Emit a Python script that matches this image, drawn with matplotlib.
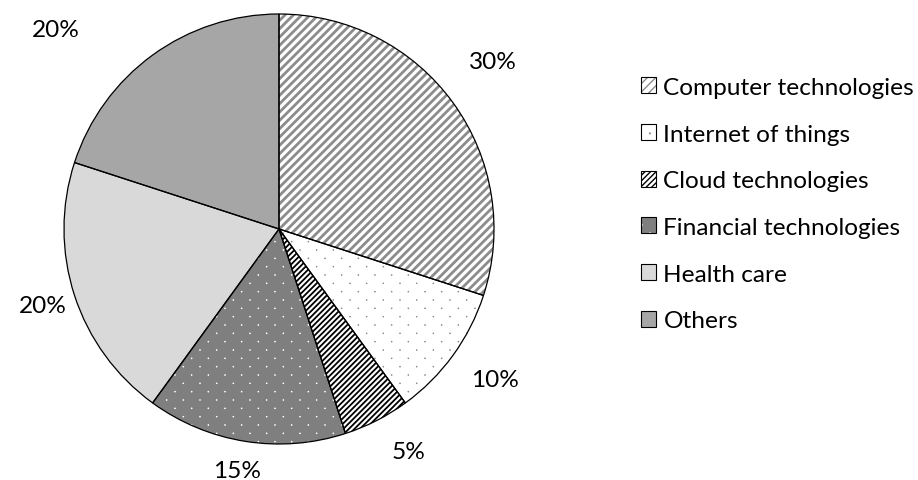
import matplotlib.pyplot as plt
from matplotlib.patches import Patch
from matplotlib.path import Path
from matplotlib import hatch as mhatch
import numpy as np

categories = ["Computer technologies", "Internet of things", "Cloud technologies",
              "Financial technologies", "Health care", "Others"]
shares = [30, 10, 5, 15, 20, 20]

# fill / hatch styles per slice (Excel-like grayscale patterns)
face = ["white", "white", "white", "#7f7f7f", "#d9d9d9", "#a6a6a6"]
hatch = ["////", ".", "//////", ".", None, None]
hatch_col = ["#8c8c8c", "#8c8c8c", "black", "white", "#d9d9d9", "#a6a6a6"]
hatch_lw = [2.0, 0.6, 1.3, 0.6, 1.0, 1.0]

# label placement (radius factor, angle shift in degrees) - mimics Excel best fit
lab_r = [1.27, 1.22, 1.19, 1.13, 1.15, 1.40]
lab_shift = [2.5, 1.5, 3.5, -1.0, -0.5, 12.0]


# Excel style dot pattern: rows twice as dense as columns, staggered
class SparseDots(mhatch.HatchPatternBase):
    def __init__(self, hatch, density):
        n = hatch.count('.') * density
        circ = Path.unit_circle()
        self.cv = circ.vertices
        self.cc = circ.codes
        pts = []
        if n:
            rows = 2 * n
            for i in range(rows + 1):
                if i % 2 == 0:
                    xs = np.arange(n + 1) / n
                else:
                    xs = (np.arange(n) + 0.5) / n
                pts += [(x, i / rows) for x in xs]
        self.pts = np.array(pts)
        self.num_vertices = len(pts) * len(self.cv)

    def set_vertices_and_codes(self, vertices, codes):
        k = len(self.cv)
        for j, (x, y) in enumerate(self.pts):
            vertices[j * k:(j + 1) * k] = self.cv * 0.004 + (x, y)
            codes[j * k:(j + 1) * k] = self.cc


mhatch._hatch_types = [SparseDots if t is mhatch.SmallFilledCircles else t
                       for t in mhatch._hatch_types]

plt.rcParams['font.family'] = ['Lato', 'DejaVu Sans']
fs = 17.6


def style_hatch(p, lw):
    if hasattr(p, 'set_hatch_linewidth'):
        p.set_hatch_linewidth(lw)


fig = plt.figure(figsize=(9.18, 4.81), dpi=100)
cx, cy, r = 279, 230, 215
ax = fig.add_axes([(cx - r) / 918, (481 - cy - r) / 481, 2 * r / 918, 2 * r / 481])

# hatched fills (hatch colour follows edgecolor, so outline is drawn separately)
wedges, _ = ax.pie(shares, startangle=90, counterclock=False, radius=1,
                   wedgeprops=dict(linewidth=0))
for w, f, h, hc, hl in zip(wedges, face, hatch, hatch_col, hatch_lw):
    w.set_facecolor(f)
    w.set_edgecolor(hc)
    w.set_hatch(h)
    style_hatch(w, hl)

# black outlines
outl, _ = ax.pie(shares, startangle=90, counterclock=False, radius=1,
                 wedgeprops=dict(fill=False, edgecolor='black', linewidth=0.9))

for w, s, lr, sh in zip(wedges, shares, lab_r, lab_shift):
    ang = np.deg2rad((w.theta1 + w.theta2) / 2 + sh)
    ax.text(lr * np.cos(ang), lr * np.sin(ang), f"{s}%", ha='center', va='center_baseline',
            fontsize=fs, color='black', clip_on=False)

ax.set_xlim(-1, 1)
ax.set_ylim(-1, 1)
ax.set_aspect('equal')
ax.axis('off')

handles = []
for f, h, hc, hl in zip(face, hatch, hatch_col, hatch_lw):
    p = Patch(facecolor=f, edgecolor=hc, hatch=h, linewidth=0)
    style_hatch(p, hl)
    handles.append((p, Patch(fill=False, edgecolor='black', linewidth=0.8)))

fig.legend(handles, categories, loc='upper left', bbox_to_anchor=(641 / 918, 1 - 78 / 481),
           frameon=False, fontsize=fs, handlelength=0.62, handleheight=0.62,
           handletextpad=0.3, labelspacing=1.05, borderpad=0, borderaxespad=0)

fig.savefig("out.png", dpi=100)
